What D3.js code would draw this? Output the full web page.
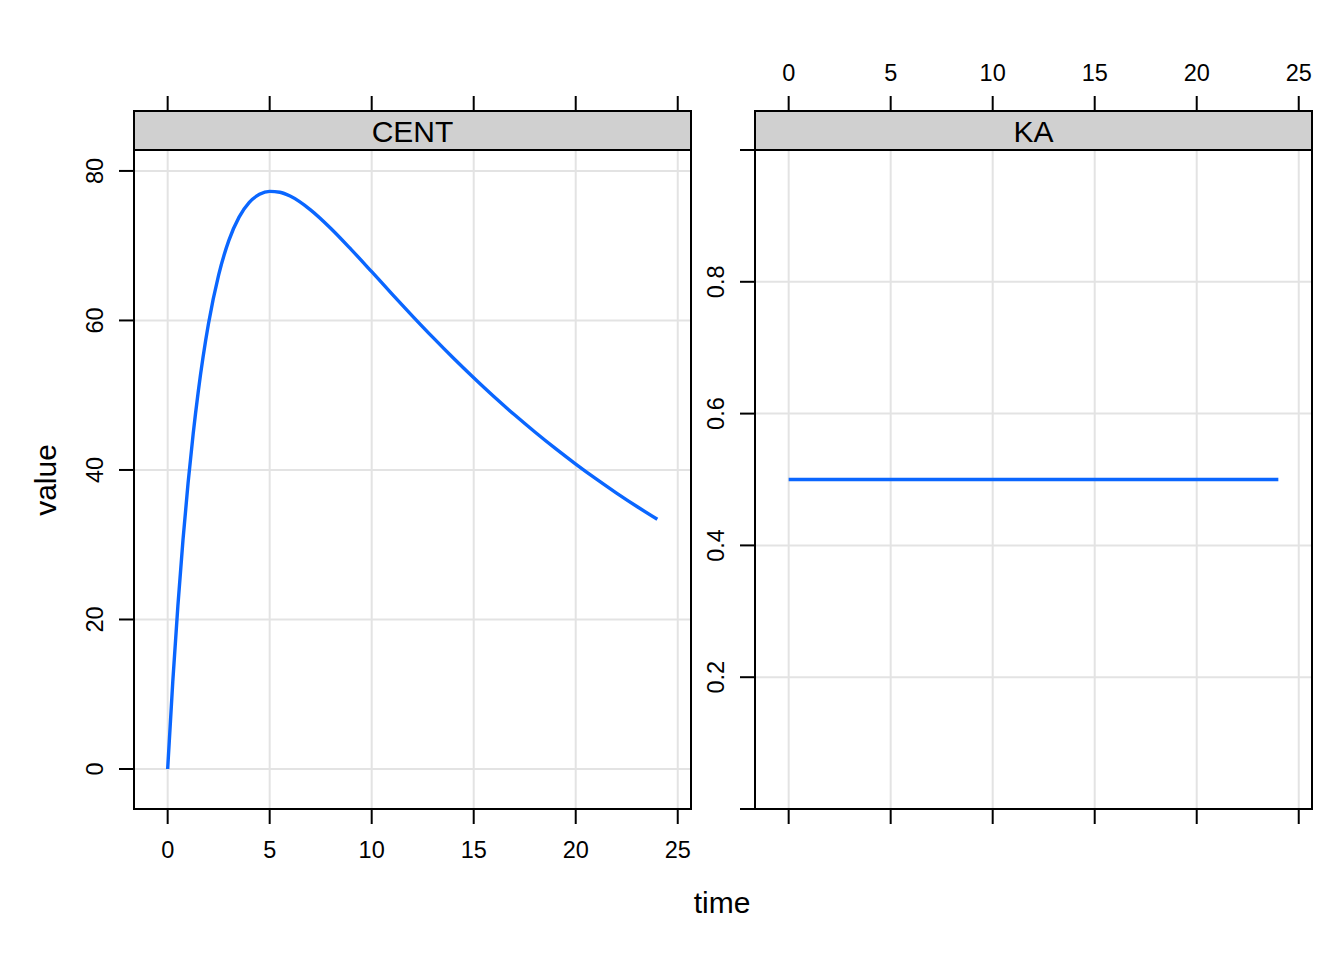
<!DOCTYPE html>
<html>
<head>
<meta charset="utf-8">
<script src="https://cdn.jsdelivr.net/npm/d3@7"></script>
<style>
  html, body { margin: 0; padding: 0; background: #fff; }
  svg text { font-family: "Liberation Sans", Arial, Helvetica, sans-serif; fill: #000; }
</style>
</head>
<body>
<svg id="chart" width="1344" height="960"></svg>
<script>
// ---- data ----
const panels = ["CENT", "KA"];
const centTime = [0, 0.25, 0.5, 0.75, 1, 1.25, 1.5, 2, 2.5, 3, 3.5, 4, 4.5, 5, 5.5, 6, 7, 8, 9, 10, 11, 12, 13, 14, 15, 16, 17, 18, 19, 20, 21, 22, 23, 24];
const centValue = [0, 11.65, 21.79, 30.60, 38.23, 44.82, 50.50, 59.55, 66.10, 70.71, 73.82, 75.79, 76.87, 77.27, 77.15, 76.64, 74.80, 72.31, 69.48, 66.52, 63.53, 60.59, 57.73, 54.97, 52.33, 49.79, 47.38, 45.08, 42.88, 40.79, 38.80, 36.91, 35.11, 33.40];
const kaTime = [0, 24];
const kaValue = [0.5, 0.5];
const xTicks = [0, 5, 10, 15, 20, 25];
const centYTicks = [0, 20, 40, 60, 80];
const kaYTicks = [0, 0.2, 0.4, 0.6, 0.8, 1];
const kaYTickLabels = ["", "0.2", "0.4", "0.6", "0.8", ""];
const xLabel = "time";
const yLabel = "value";

// ---- layout ----
const svg = d3.select("#chart");
const tickFont = 23.5, bigFont = 30, tickLen = 15;
const lineColor = "#0a66ff", gridColor = "#e3e3e3";
const panelTop = 150, panelBottom = 809, stripTop = 111;

const panelDefs = [
  { name: panels[0], x0: 134, x1: 691, yDomain: [-5.35, 82.8], yTicks: centYTicks,
    yLabels: centYTicks.map(String), t: centTime, v: centValue,
    topLabels: false, bottomLabels: true, yLabelX: 95 },
  { name: panels[1], x0: 755, x1: 1312, yDomain: [0, 1], yTicks: kaYTicks,
    yLabels: kaYTickLabels, t: kaTime, v: kaValue,
    topLabels: true, bottomLabels: false, yLabelX: 716 }
];

panelDefs.forEach(p => {
  const x = d3.scaleLinear().domain([-1.65, 25.65]).range([p.x0, p.x1]);
  const y = d3.scaleLinear().domain(p.yDomain).range([panelBottom, panelTop]);
  const g = svg.append("g");

  // grid
  g.selectAll(".vg").data(xTicks).join("line")
    .attr("x1", d => x(d)).attr("x2", d => x(d))
    .attr("y1", panelTop).attr("y2", panelBottom)
    .attr("stroke", gridColor).attr("stroke-width", 2);
  g.selectAll(".hg").data(p.yTicks.filter(d => y(d) > panelTop + 1 && y(d) < panelBottom - 1)).join("line")
    .attr("x1", p.x0).attr("x2", p.x1)
    .attr("y1", d => y(d)).attr("y2", d => y(d))
    .attr("stroke", gridColor).attr("stroke-width", 2);

  // data line
  const pts = p.t.map((t, i) => [t, p.v[i]]);
  g.append("path").datum(pts)
    .attr("d", d3.line().x(d => x(d[0])).y(d => y(d[1])).curve(d3.curveMonotoneX))
    .attr("fill", "none").attr("stroke", lineColor).attr("stroke-width", 3.4);

  // strip
  g.append("rect").attr("x", p.x0).attr("y", stripTop)
    .attr("width", p.x1 - p.x0).attr("height", panelTop - stripTop)
    .attr("fill", "#d0d0d0").attr("stroke", "#000").attr("stroke-width", 2);
  g.append("text").attr("x", (p.x0 + p.x1) / 2).attr("y", (stripTop + panelTop) / 2 + 1)
    .attr("text-anchor", "middle").attr("dominant-baseline", "central")
    .attr("font-size", bigFont).text(p.name);

  // panel box
  g.append("rect").attr("x", p.x0).attr("y", panelTop)
    .attr("width", p.x1 - p.x0).attr("height", panelBottom - panelTop)
    .attr("fill", "none").attr("stroke", "#000").attr("stroke-width", 2);

  // bottom ticks
  g.selectAll(".bt").data(xTicks).join("line")
    .attr("x1", d => x(d)).attr("x2", d => x(d))
    .attr("y1", panelBottom).attr("y2", panelBottom + tickLen)
    .attr("stroke", "#000").attr("stroke-width", 2);
  if (p.bottomLabels) {
    g.selectAll(".bl").data(xTicks).join("text")
      .attr("x", d => x(d)).attr("y", 850)
      .attr("text-anchor", "middle").attr("dominant-baseline", "central")
      .attr("font-size", tickFont).text(d => d);
  }
  // top ticks
  g.selectAll(".tt").data(xTicks).join("line")
    .attr("x1", d => x(d)).attr("x2", d => x(d))
    .attr("y1", stripTop).attr("y2", stripTop - tickLen)
    .attr("stroke", "#000").attr("stroke-width", 2);
  if (p.topLabels) {
    g.selectAll(".tl").data(xTicks).join("text")
      .attr("x", d => x(d)).attr("y", 73)
      .attr("text-anchor", "middle").attr("dominant-baseline", "central")
      .attr("font-size", tickFont).text(d => d);
  }
  // left ticks
  g.selectAll(".lt").data(p.yTicks).join("line")
    .attr("x1", p.x0).attr("x2", p.x0 - tickLen)
    .attr("y1", d => y(d)).attr("y2", d => y(d))
    .attr("stroke", "#000").attr("stroke-width", 2);
  g.selectAll(".ll").data(p.yTicks).join("text")
    .attr("transform", d => `translate(${p.yLabelX},${y(d)}) rotate(-90)`)
    .attr("text-anchor", "middle").attr("dominant-baseline", "central")
    .attr("font-size", tickFont).text((d, i) => p.yLabels[i]);
});

// axis titles
svg.append("text").attr("x", 722).attr("y", 902)
  .attr("text-anchor", "middle").attr("dominant-baseline", "central")
  .attr("font-size", bigFont).text(xLabel);
svg.append("text").attr("transform", "translate(45,480) rotate(-90)")
  .attr("text-anchor", "middle").attr("dominant-baseline", "central")
  .attr("font-size", bigFont).text(yLabel);
</script>
</body>
</html>
